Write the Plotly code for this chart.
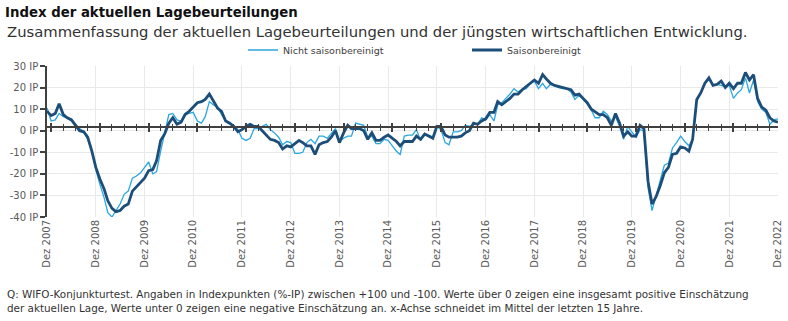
import numpy as np
import pandas as pd
import plotly.graph_objects as go

# Monthly series, Dez 2007 .. Dez 2022 (181 months)
months = pd.date_range("2007-12-01", "2022-12-01", freq="MS")

nicht_saisonbereinigt = [
    10.5, 4.5, 5, 8, 6.5, 6, 5.5, 3, 1, -0.5, -4, -9.5,
    -18, -25, -31, -38, -40, -37, -34, -29.5, -28, -22, -21, -19.5,
    -17, -14.5, -20, -19, -9.5, -1, 7.5, 8, 5, 4.5, 7.5, 8,
    8.5, 4.5, 3.5, 6.5, 13.5, 12, 11, 7.5, 4.5, 3, 2.5, 0.5,
    -3.5, -4.5, -3.5, 1, 1, 2, 3, 0.5, -1, -3, -6.5, -5,
    -5.5, -10.5, -10.5, -10, -5.5, -4, -6, -2.5, -2.5, -3.5, -1.5, 1,
    -5, -3.5, -2.5, -2.5, 3.5, 3, 2.5, -3, -2.5, -6, -6, -4,
    -4.5, -7, -9.5, -11, -2.5, -2, -2, 0.5, -4.5, -2, -2, -3,
    2, 0.5, -5.5, -6.5, -0.5, -0.5, 0, 2.5, 2, 3, 3, 6,
    5, 7.5, 4.5, 12, 13, 15, 17, 19.5, 18, 19, 19.5, 22,
    23, 19.5, 22, 19.5, 21.5, 21, 20, 19.5, 19.5, 18, 14.5, 16.5,
    14.5, 12.5, 9.5, 6, 6, 9, 7.5, 4.5, 6.5, 2, -4, 2,
    -0.5, -3, 0.5, 0, -26.5, -37, -30, -23.5, -16, -15, -8, -5.5,
    -2.5, -5, -7, -4, 13.5, 18, 22, 24, 21, 21.5, 21, 20.5,
    21, 15, 17.5, 19, 24.5, 17.5, 23.5, 13.5, 10, 8.5, 3, 5,
    5.5,
]

saisonbereinigt = [
    9, 7, 8, 12.5, 7.5, 6, 5, 2.5, 0, -0.5, -3, -9.5,
    -17, -22.5, -27, -32.5, -36, -37.5, -37, -35, -34, -28, -26, -24,
    -22, -18.5, -18, -14, -4.5, -1.5, 3.5, 6, 3, 4, 7.5, 9,
    11, 13, 13.5, 14.5, 17, 14, 10.5, 9, 4.5, 3.5, 2, -0.5,
    0.5, 2, 3, 2, 2, 0, -2, -4, -4.5, -5.5, -8.5, -7,
    -7.5, -6, -4.5, -5.5, -7, -7, -11, -6.5, -5.5, -5, -3, 0,
    -5.5, -1, 2.5, 1, 1, 1, 0, -4, -1, -4.5, -4.5, -3,
    -2, -3.5, -5, -7, -5, -5, -5, -2.5, -4, -1.5, -2.5, -3.5,
    2, 2, -2, -3, -3, -3, -2.5, -1, 0, 3.5, 3, 4.5,
    5.5, 8.5, 8.5, 13.5, 12, 13.5, 15, 17, 17, 19, 20.5, 22,
    23.5, 22, 26, 24, 22, 21, 20.5, 20, 19.5, 19, 16.5, 17,
    15, 13, 10, 9, 7.5, 7.5, 6, 2.5, 8, 3.5, -2.5, -0.5,
    -2.5, -2.5, 2.5, 1, -23.5, -34, -30.5, -25.5, -19.5, -17, -11, -10.5,
    -7.5, -8, -9.5, -4, 14.5, 17.5, 22, 24.5, 21, 21.5, 23, 20,
    22, 19.5, 22, 22, 27, 23.5, 26, 15, 11, 9.5, 6, 4.5,
    4,
]

x_tick_dates = pd.date_range("2007-12-01", "2022-12-01", freq="12MS")
x_tick_labels = ["Dez 2007", "Dez 2008", "Dez 2009", "Dez 2010", "Dez 2011",
                 "Dez 2012", "Dez 2013", "Dez 2014", "Dez 2015", "Dez 2016",
                 "Dez 2017", "Dez 2018", "Dez 2019", "Dez 2020", "Dez 2021",
                 "Dez 2022"]
y_tick_values = [30, 20, 10, 0, -10, -20, -30, -40]
y_tick_labels = ["30 IP", "20 IP", "10 IP", "0 IP", "-10 IP", "-20 IP", "-30 IP", "-40 IP"]

W, H = 788, 321
ML, MR, MT, MB = 47, 10, 66, 104
Y_MIN, Y_MAX = -40, 30
X_RANGE = [months[0], months[-1]]

FONT = "DejaVu Sans"
GRID = "#e9e9e9"
AXIS = "#404040"
TICKFONT = dict(family=FONT, size=10, color="#595959")


def px_x(px):
    return (px - ML) / (W - ML - MR)


def px_y(py):
    return (H - MB - py) / (H - MT - MB)


# horizontal axis crosses at the 15-year mean of the seasonally adjusted index
mean_level = float(np.mean(saisonbereinigt))
cross_pos = (mean_level - Y_MIN) / (Y_MAX - Y_MIN)

fig = go.Figure()
fig.add_trace(go.Scatter(
    x=months, y=nicht_saisonbereinigt, mode="lines",
    name="Nicht saisonbereinigt",
    line=dict(color="#2ba6df", width=1.3),
))
fig.add_trace(go.Scatter(
    x=months, y=saisonbereinigt, mode="lines",
    name="Saisonbereinigt",
    line=dict(color="#1d4e79", width=2.8),
))

cross_axis = dict(
    overlaying="x", anchor="free", position=cross_pos,
    type="date", range=X_RANGE, showgrid=False, zeroline=False,
    showticklabels=False, showline=True, linecolor=AXIS, linewidth=1.5,
    tickmode="linear", tick0="2008-01-01", dtick="M12",
    ticklen=4, tickwidth=1.5, tickcolor=AXIS,
    minor=dict(tick0="2008-01-01", dtick="M3", ticklen=2.5, tickwidth=1, tickcolor=AXIS),
)

fig.update_layout(
    width=W, height=H,
    margin=dict(l=ML, r=MR, t=MT, b=MB, autoexpand=False),
    paper_bgcolor="white", plot_bgcolor="white",
    font=dict(family=FONT, color="#333333"),
    title=dict(
        text="<b>Index der aktuellen Lagebeurteilungen</b>",
        font=dict(family=FONT, size=13.3, color="#111111"),
        x=5 / W, xanchor="left", xref="container",
        y=1 - 12 / H, yanchor="middle", yref="container",
    ),
    xaxis=dict(
        type="date", range=X_RANGE,
        tickmode="array", tickvals=x_tick_dates, ticktext=x_tick_labels,
        tickangle=-90, tickfont=TICKFONT, ticks="", ticklen=0,
        showgrid=True, gridcolor=GRID, gridwidth=1,
        showline=False, zeroline=False, automargin=False,
    ),
    xaxis2=dict(cross_axis, ticks="outside",
                minor=dict(cross_axis["minor"], ticks="outside")),
    xaxis3=dict(cross_axis, ticks="inside",
                minor=dict(cross_axis["minor"], ticks="inside")),
    yaxis=dict(
        range=[Y_MIN, Y_MAX],
        tickmode="array", tickvals=y_tick_values, ticktext=y_tick_labels,
        tickfont=TICKFONT, ticks="outside", ticklen=5, tickcolor=AXIS,
        tickwidth=1.5, automargin=False,
        showgrid=True, gridcolor=GRID, gridwidth=1,
        showline=True, linecolor=AXIS, linewidth=1.5, zeroline=False,
    ),
    legend=dict(
        orientation="h", xref="container", yref="container",
        x=243 / W, xanchor="left", y=1 - 50 / H, yanchor="middle",
        font=dict(family=FONT, size=9.5, color="#404040"),
        entrywidth=179, entrywidthmode="pixels",
        bgcolor="rgba(0,0,0,0)",
    ),
    showlegend=True,
)

# invisible carriers so the two crossing axes are drawn
for ax in ("x2", "x3"):
    fig.add_trace(go.Scatter(x=[months[0]], y=[None], xaxis=ax, yaxis="y",
                             showlegend=False, hoverinfo="skip"))

fig.add_annotation(
    text="Zusammenfassung der aktuellen Lagebeurteilungen und der jüngsten wirtschaftlichen Entwicklung.",
    xref="paper", yref="paper", x=px_x(5), y=px_y(32),
    xanchor="left", yanchor="middle", showarrow=False,
    font=dict(family=FONT, size=14.8, color="#333333"),
)
fig.add_annotation(
    text=("Q: WIFO-Konjunkturtest. Angaben in Indexpunkten (%-IP) zwischen +100 und -100. "
          "Werte über 0 zeigen eine insgesamt positive Einschätzung<br>"
          "der aktuellen Lage, Werte unter 0 zeigen eine negative Einschätzung an. "
          "x-Achse schneidet im Mittel der letzten 15 Jahre."),
    xref="paper", yref="paper", x=px_x(5), y=px_y(301),
    xanchor="left", yanchor="middle", align="left", showarrow=False,
    font=dict(family=FONT, size=10.4, color="#333333"),
)

fig.write_html("out.html")
